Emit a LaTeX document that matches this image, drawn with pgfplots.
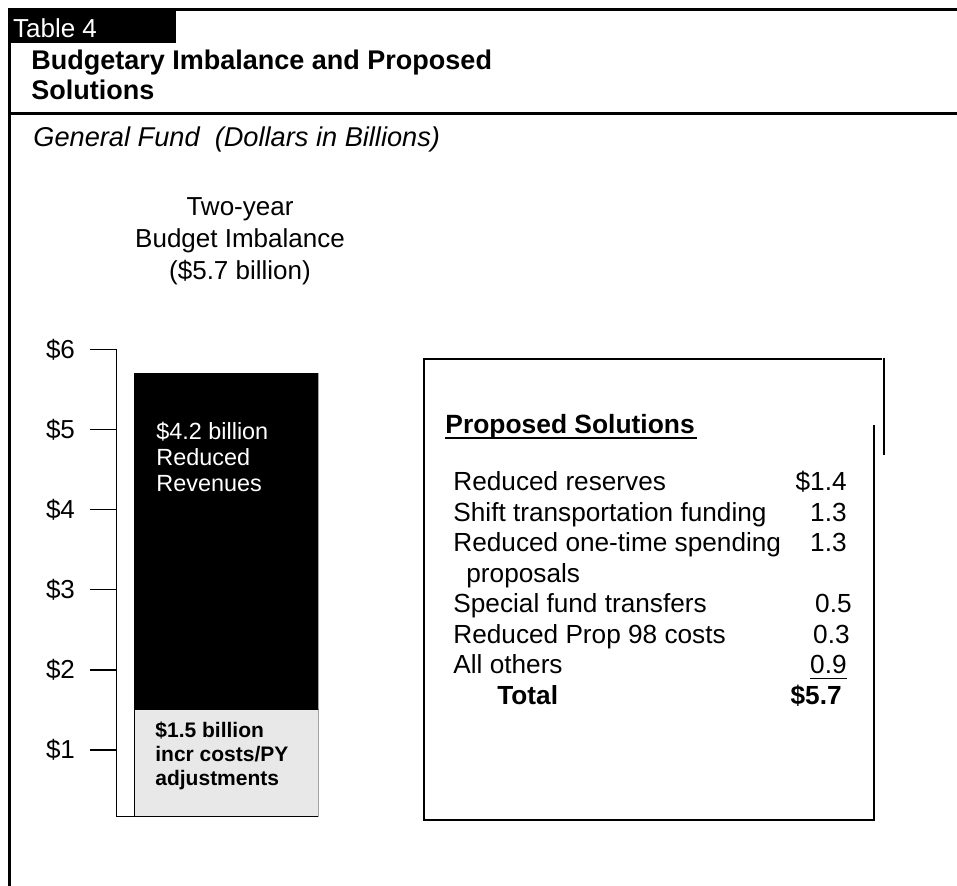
\documentclass[border=0pt]{standalone}
\usepackage{fontspec}
\setmainfont{Liberation Sans}
\usepackage{pgfplots}
\pgfplotsset{compat=1.18}
\definecolor{lightbar}{HTML}{E8E8E8}
\begin{document}
\begin{tikzpicture}[x=0.5pt,y=-0.5pt]
\path[use as bounding box] (0,0) rectangle (957,886);
% frame
\fill[black] (9.3,8.3) rectangle (175.7,43.3);
\draw[line width=1.3pt] (175.7,9.3) -- (957,9.3);
\draw[line width=1.1pt] (9.5,8.3) -- (9.5,886);
\draw[line width=1.3pt] (9.5,113.3) -- (957,113.3);
\node[anchor=base west, inner sep=0, text=white, font=\fontsize{13}{15}\selectfont] at (12.7,37.3) {Table 4};
\node[anchor=base west, inner sep=0, font=\fontsize{13.5}{15}\selectfont\bfseries] at (31,69.5) {Budgetary Imbalance and Proposed};
\node[anchor=base west, inner sep=0, font=\fontsize{13.5}{15}\selectfont\bfseries] at (31,100) {Solutions};
\node[anchor=base west, inner sep=0, font=\fontsize{13.6}{15}\selectfont\itshape] at (33,146.5) {General Fund\ \ (Dollars in Billions)};
% bar caption
\node[anchor=base, inner sep=0, font=\fontsize{13}{15}\selectfont] at (240,216) {Two-year};
\node[anchor=base, inner sep=0, font=\fontsize{13}{15}\selectfont] at (240,248) {Budget Imbalance};
\node[anchor=base, inner sep=0, font=\fontsize{13}{15}\selectfont] at (240,280) {(\$5.7 billion)};
% chart
\begin{axis}[at={(58.35pt,-408.35pt)}, anchor=south west, scale only axis,
  width=100.8pt, height=233.7pt,
  xmin=0, xmax=201.6, ymin=0.167, ymax=6, enlargelimits=false,
  axis x line*=bottom, axis y line*=left,
  xtick=\empty, ytick={1,2,3,4,5,6},
  yticklabels={\$1,\$2,\$3,\$4,\$5,\$6},
  tick align=outside, major tick length=13.35pt,
  axis line style={line width=0.75pt, black},
  every tick/.style={line width=0.75pt, black},
  yticklabel style={font=\fontsize{13}{15}\selectfont, xshift=-4pt},
  ybar stacked, bar width=184]
\addplot[fill=lightbar, draw=black, line width=0.6pt] coordinates {(109.6,1.5)};
\addplot[fill=black, draw=black, line width=0.6pt] coordinates {(109.6,4.2)};
\end{axis}
% bar texts
\node[anchor=base west, inner sep=0, text=white, font=\fontsize{11.7}{13}\selectfont] at (156,439.3) {\$4.2 billion};
\node[anchor=base west, inner sep=0, text=white, font=\fontsize{11.7}{13}\selectfont] at (156,465.7) {Reduced};
\node[anchor=base west, inner sep=0, text=white, font=\fontsize{11.7}{13}\selectfont] at (156,492) {Revenues};
\node[anchor=base west, inner sep=0, font=\fontsize{10.5}{12}\selectfont\bfseries] at (155,737.7) {\$1.5 billion};
\node[anchor=base west, inner sep=0, font=\fontsize{10.5}{12}\selectfont\bfseries] at (155,761.7) {incr costs/PY};
\node[anchor=base west, inner sep=0, font=\fontsize{10.5}{12}\selectfont\bfseries] at (155,785.3) {adjustments};
% solutions box
\draw[line width=0.75pt] (882,359) -- (424,359) -- (424,820) -- (874,820) -- (874,425);
\draw[line width=0.75pt] (884,358) -- (884,455);
\node[anchor=base west, inner sep=0, font=\fontsize{13.2}{15}\selectfont\bfseries] at (445,433.3) {Proposed Solutions};
\draw[line width=0.8pt] (445,438.3) -- (696.7,438.3);
\begin{scope}[every node/.style={inner sep=0, font=\fontsize{13.1}{15}\selectfont}]
\node[anchor=base west] at (453,490.7) {Reduced reserves};
\node[anchor=base west] at (453,521.2) {Shift transportation funding};
\node[anchor=base west] at (453,551.7) {Reduced one-time spending};
\node[anchor=base west] at (466,582.2) {proposals};
\node[anchor=base west] at (453,612.7) {Special fund transfers};
\node[anchor=base west] at (453,643.2) {Reduced Prop 98 costs};
\node[anchor=base west] at (453,673.7) {All others};
\node[anchor=base west, font=\fontsize{13.1}{15}\selectfont\bfseries] at (497,704.2) {Total};
\node[anchor=base east] at (847,490.7) {\$1.4};
\node[anchor=base east] at (847,521.2) {1.3};
\node[anchor=base east] at (847,551.7) {1.3};
\node[anchor=base east] at (852,612.7) {0.5};
\node[anchor=base east] at (850,643.2) {0.3};
\node[anchor=base east] at (847,673.7) {0.9};
\node[anchor=base east, font=\fontsize{13.1}{15}\selectfont\bfseries] at (842,704.2) {\$5.7};
\end{scope}
\draw[line width=0.6pt] (810,678.5) -- (847,678.5);
\end{tikzpicture}
\end{document}
